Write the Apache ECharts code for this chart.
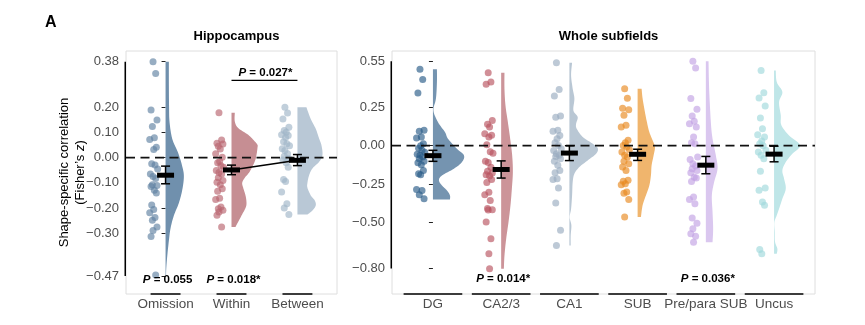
<!DOCTYPE html>
<html><head><meta charset="utf-8">
<script src="https://cdn.jsdelivr.net/npm/echarts@6/dist/echarts.min.js"></script>
<style>html,body{margin:0;padding:0;background:#fff}#c{width:865px;height:325px}</style>
</head><body><div id="c"></div>
<script>
// ---------------- DATA ----------------
const leftCats = ['Omission', 'Within', 'Between'];
const rightCats = ['DG', 'CA2/3', 'CA1', 'SUB', 'Pre/para SUB', 'Uncus'];
const leftTicks = [0.38, 0.20, 0.10, 0.00, -0.10, -0.20, -0.30, -0.47];
const rightTicks = [0.55, 0.25, 0.00, -0.25, -0.50, -0.80];

// individual participant values (Fisher's z)
const omissionPts = [0.38, 0.333, 0.189, 0.149, 0.123, 0.079, 0.072, 0.041, 0.032, -0.025, -0.03, -0.045, -0.065, -0.075, -0.083, -0.108, -0.111, -0.115, -0.13, -0.141, -0.188, -0.206, -0.219, -0.238, -0.249, -0.275, -0.289, -0.313, -0.466];
const withinPts = [0.178, 0.07, 0.057, 0.054, 0.045, 0.034, 0.015, 0.001, -0.016, -0.021, -0.032, -0.038, -0.051, -0.059, -0.065, -0.08, -0.091, -0.098, -0.108, -0.124, -0.134, -0.161, -0.166, -0.196, -0.203, -0.209, -0.216, -0.229, -0.275];
const betweenPts = [0.199, 0.177, 0.153, 0.12, 0.107, 0.1, 0.09, 0.087, 0.08, 0.063, 0.055, 0.047, 0.035, 0.028, 0.015, 0.005, -0.005, -0.01, -0.021, -0.038, -0.087, -0.095, -0.137, -0.183, -0.2, -0.226];
const dgPts = [0.498, 0.432, 0.343, 0.10, 0.095, 0.056, 0.05, 0.013, 0.0, -0.016, -0.03, -0.042, -0.055, -0.063, -0.074, -0.085, -0.102, -0.111, -0.124, -0.161, -0.183, -0.19, -0.285, -0.292, -0.32, -0.346];
const ca23Pts = [0.476, 0.415, 0.40, 0.165, 0.14, 0.122, 0.078, 0.068, 0.057, 0.007, -0.04, -0.05, -0.102, -0.11, -0.14, -0.166, -0.178, -0.189, -0.198, -0.22, -0.24, -0.303, -0.32, -0.357, -0.41, -0.417, -0.42, -0.498, -0.606, -0.704, -0.802];
const ca1Pts = [0.541, 0.367, 0.324, 0.193, 0.186, 0.1, 0.095, 0.067, 0.046, 0.02, 0.002, -0.02, -0.031, -0.052, -0.063, -0.07, -0.085, -0.102, -0.128, -0.161, -0.176, -0.215, -0.22, -0.276, -0.374, -0.552, -0.65];
const subPts = [0.371, 0.31, 0.245, 0.235, 0.198, 0.133, 0.122, 0.035, 0.02, 0.002, -0.009, -0.026, -0.041, -0.063, -0.074, -0.102, -0.117, -0.139, -0.161, -0.226, -0.232, -0.248, -0.255, -0.302, -0.31, -0.35, -0.465];
const preParaPts = [0.55, 0.506, 0.307, 0.237, 0.193, 0.16, 0.143, 0.122, 0.056, 0.019, 0.013, -0.074, -0.09, -0.118, -0.133, -0.15, -0.161, -0.176, -0.205, -0.21, -0.233, -0.335, -0.35, -0.378, -0.472, -0.505, -0.542, -0.574, -0.59, -0.629];
const uncusPts = [0.491, 0.346, 0.311, 0.259, 0.18, 0.11, 0.072, 0.056, 0.03, 0.013, 0.0, -0.03, -0.041, -0.063, -0.085, -0.167, -0.276, -0.291, -0.367, -0.389, -0.677, -0.705];

// group means with error bar limits
const leftMeans = [-0.070, -0.049, -0.011];
const leftLow = [-0.104, -0.068, -0.032];
const leftHigh = [-0.034, -0.030, 0.012];
const rightMeans = [-0.065, -0.155, -0.048, -0.056, -0.127, -0.055];
const rightLow = [-0.102, -0.211, -0.097, -0.096, -0.183, -0.105];
const rightHigh = [-0.030, -0.099, 0.000, -0.023, -0.070, -0.003];

// half-violin density profiles: [value, density]
const omissionDens = [[0.38,3.3],[0.30,3.3],[0.2,3.5],[0.14,4],[0.074,6.7],[0.017,12.7],[-0.035,16.7],[-0.075,18.3],[-0.128,16.7],[-0.18,13.3],[-0.23,8.3],[-0.28,5],[-0.33,3.3],[-0.39,1.7],[-0.44,0.7],[-0.466,0.5]];
const withinDens = [[0.178,3.3],[0.143,3.3],[0.117,6.7],[0.09,16.7],[0.064,23.3],[0.05,26],[0.04,26],[0.011,25],[-0.015,23.3],[-0.055,18.3],[-0.08,13.3],[-0.1,10.7],[-0.12,11.7],[-0.15,14],[-0.18,15],[-0.2,14],[-0.23,10],[-0.275,4]];
const betweenDens = [[0.199,9],[0.153,13.3],[0.114,18.3],[0.075,21.7],[0.049,24],[0.01,25],[-0.017,21.7],[-0.043,15],[-0.07,11.7],[-0.1,10],[-0.12,10],[-0.15,13.3],[-0.17,17.3],[-0.19,18.3],[-0.21,15],[-0.226,10]];
const dgDens = [[0.498,4],[0.415,4],[0.307,3],[0.23,0.5],[0.154,5],[0.089,12],[0.046,15],[-0.02,24],[-0.063,31],[-0.107,29],[-0.15,21],[-0.194,9],[-0.226,6],[-0.259,9],[-0.292,14],[-0.324,17],[-0.35,17]];
const ca23Dens = [[0.476,3.3],[0.372,3.3],[0.263,4.3],[0.154,6.7],[0.046,9],[-0.063,11],[-0.171,11.7],[-0.28,10.7],[-0.39,9.3],[-0.5,7.3],[-0.608,5],[-0.717,3.3],[-0.802,2.7]];
const ca1Dens = [[0.541,2.7],[0.459,1.7],[0.372,3.3],[0.307,5],[0.23,4],[0.187,8.3],[0.143,6.7],[0.111,7.3],[0.057,13.3],[0.02,21.7],[-0.015,28.3],[-0.052,26.7],[-0.096,18.3],[-0.139,10],[-0.183,5],[-0.237,3.3],[-0.324,2.7],[-0.411,1.7],[-0.466,0.3],[-0.52,2],[-0.585,1.3],[-0.65,1.3]];
const subDens = [[0.371,4],[0.307,5],[0.22,7.3],[0.154,9.3],[0.089,11.7],[0.035,15],[-0.009,17.3],[-0.063,16],[-0.128,14],[-0.194,13.3],[-0.259,11.7],[-0.324,8.3],[-0.389,5],[-0.465,3.3]];
const preParaDens = [[0.55,2.7],[0.372,3.3],[0.154,5],[0.046,6.7],[-0.063,10],[-0.15,11.7],[-0.237,8.3],[-0.324,6],[-0.433,6.7],[-0.542,7.3],[-0.629,6.7]];
const uncusDens = [[0.491,1.7],[0.415,2.7],[0.35,8.3],[0.285,5],[0.198,6.7],[0.133,7.3],[0.067,15],[0.002,26],[-0.052,18.3],[-0.107,11.7],[-0.161,8.3],[-0.215,10],[-0.28,11.7],[-0.346,8.3],[-0.411,5],[-0.454,2.7],[-0.5,0.3],[-0.563,0.7],[-0.628,1],[-0.672,3.3],[-0.705,2.7]];

// horizontal jitter pattern (x-axis units, to the left of each group)
const jitter = [-0.19,-0.15,-0.22,-0.13,-0.2,-0.17,-0.24,-0.14,-0.18,-0.21,-0.16,-0.12,-0.23,-0.19,-0.15,-0.2,-0.13,-0.22,-0.17,-0.14,-0.21,-0.18,-0.24,-0.16,-0.2,-0.13,-0.19,-0.22,-0.15,-0.18,-0.17];

// p-value annotations
const leftPValues = [{cat: 0, text: '0.055'}, {cat: 1, text: '0.018*'}];
const leftPairs = [{from: 1, to: 2, text: '0.027*'}];
const rightPValues = [{cat: 1, text: '0.014*'}, {cat: 4, text: '0.036*'}];

// ---------------- STYLE ----------------
const FONT = '"Liberation Sans", Arial, Helvetica, sans-serif';
const panels = [
  {
    cats: leftCats, ticks: leftTicks,
    pts: [omissionPts, withinPts, betweenPts],
    dens: [omissionDens, withinDens, betweenDens],
    means: leftMeans, lo: leftLow, hi: leftHigh,
    pv: leftPValues, pairs: leftPairs,
    ymin: -0.541, ymax: 0.4225, pvY: -0.486, pairY: 0.306,
    underHalf: 0.227, densScale: 1 / 65.9,
    ptColors: ['#5f81a1', '#b8646f', '#a0b5c8'],
    vColors: ['#7090ad', '#c68e93', '#b9c8d6'],
    grid: {left: 126, top: 51, width: 211, height: 243}
  },
  {
    cats: rightCats, ticks: rightTicks,
    pts: [dgPts, ca23Pts, ca1Pts, subPts, preParaPts, uncusPts],
    dens: [dgDens, ca23Dens, ca1Dens, subDens, preParaDens, uncusDens],
    means: rightMeans, lo: rightLow, hi: rightHigh,
    pv: rightPValues, pairs: [],
    ymin: -0.967, ymax: 0.6175, pvY: -0.871, pairY: 0,
    underHalf: 0.43, densScale: 1 / 68.2,
    ptColors: ['#285a87', '#b9535f', '#9aacc0', '#e8891e', '#c2a2e3', '#a0d9dc'],
    vColors: ['#7594b0', '#cc9499', '#b9c7d4', '#f0b56d', '#dac7ef', '#bfe6e8'],
    grid: {left: 392, top: 51, width: 423, height: 243}
  }
];

function fmtTick(v) {
  const s = Math.abs(v).toFixed(2);
  return (v < -1e-9 ? '\u2212' : '') + s;
}

function catmull(pts) {
  if (pts.length < 3) return pts;
  const out = [];
  for (let i = 0; i < pts.length - 1; i++) {
    const p0 = pts[Math.max(0, i - 1)], p1 = pts[i], p2 = pts[i + 1], p3 = pts[Math.min(pts.length - 1, i + 2)];
    for (let k = 0; k < 8; k++) {
      const t = k / 8, t2 = t * t, t3 = t2 * t;
      const f = (a, b, c, d) => 0.5 * ((2 * b) + (-a + c) * t + (2 * a - 5 * b + 4 * c - d) * t2 + (-a + 3 * b - 3 * c + d) * t3);
      out.push([f(p0[0], p1[0], p2[0], p3[0]), f(p0[1], p1[1], p2[1], p3[1])]);
    }
  }
  out.push(pts[pts.length - 1]);
  return out;
}

const rich = {
  i: {fontStyle: 'italic', fontWeight: 'bold', fontSize: 11.5, fontFamily: FONT, fill: '#000'},
  b: {fontWeight: 'bold', fontSize: 11.5, fontFamily: FONT, fill: '#000'}
};

const grids = [], xAxes = [], yAxes = [], series = [];

panels.forEach((P, p) => {
  grids.push(Object.assign({show: true, borderColor: '#dedede', borderWidth: 1, backgroundColor: 'transparent'}, P.grid));
  const n = P.cats.length;
  const catIdx = P.cats.map((c, i) => i);
  xAxes.push({
    gridIndex: p, type: 'value', min: -0.6, max: n - 0.4,
    axisLine: {show: false}, axisTick: {show: false}, splitLine: {show: false},
    axisLabel: {customValues: catIdx, formatter: v => P.cats[Math.round(v)] || '', color: '#4d4d4d', fontSize: 13.5, fontFamily: FONT, margin: 3}
  });
  const yax = {
    gridIndex: p, type: 'value', min: P.ymin, max: P.ymax,
    splitLine: {show: false}, axisLine: {show: false},
    axisTick: {show: true, customValues: P.ticks, length: 4, lineStyle: {color: '#222', width: 1}},
    axisLabel: {customValues: P.ticks, formatter: fmtTick, color: '#4d4d4d', fontSize: 13, fontFamily: FONT, margin: 7}
  };
  if (p === 0) {
    Object.assign(yax, {
      name: '{a|Shape-specific correlation}\n{a|(Fisher\u2019s }{z|z}{a|)}',
      nameLocation: 'middle', nameGap: 38, nameRotate: 90, nameMoveOverlap: false,
      nameTextStyle: {
        lineHeight: 16,
        rich: {
          a: {fontSize: 13, fontFamily: FONT, color: '#000', lineHeight: 16},
          z: {fontSize: 13, fontFamily: FONT, color: '#000', fontStyle: 'italic', lineHeight: 16}
        }
      }
    });
  }
  yAxes.push(yax);

  // half violins
  series.push({
    type: 'custom', xAxisIndex: p, yAxisIndex: p, z: 1, silent: true,
    data: catIdx.map(i => [i, P.means[i]]),
    renderItem: (params, api) => {
      const i = params.dataIndex;
      const d = P.dens[i];
      const edge = d.map(([y, w]) => api.coord([i + w * P.densScale, y]));
      const bx = api.coord([i, 0])[0];
      const smooth = catmull(edge).map(q => [Math.max(bx, q[0]), q[1]]);
      const top = api.coord([i, d[0][0]]);
      const bot = api.coord([i, d[d.length - 1][0]]);
      return {type: 'polygon', shape: {points: [top].concat(smooth, [bot])}, style: {fill: P.vColors[i]}};
    }
  });

  // jittered points
  P.pts.forEach((arr, i) => {
    series.push({
      type: 'scatter', xAxisIndex: p, yAxisIndex: p, z: 2, silent: true,
      symbolSize: 7,
      itemStyle: {color: P.ptColors[i], opacity: 0.65},
      data: arr.map((v, k) => [i + jitter[k % jitter.length], v])
    });
  });

  // zero reference (dashed)
  series.push({
    type: 'custom', xAxisIndex: p, yAxisIndex: p, z: 3, silent: true,
    data: [[0, 0]],
    renderItem: (params, api) => {
      const a = api.coord([-0.6, 0]), b = api.coord([n - 0.4, 0]);
      return {type: 'line', shape: {x1: a[0], y1: a[1], x2: b[0], y2: b[1]},
        style: {stroke: '#111', lineWidth: 1.7, lineDash: [9, 5.5]}};
    }
  });

  // means with error bars
  series.push({
    type: 'custom', xAxisIndex: p, yAxisIndex: p, z: 5, silent: true,
    data: catIdx.map(i => [i, P.means[i], P.lo[i], P.hi[i]]),
    renderItem: (params, api) => {
      const x = api.value(0);
      const c = api.coord([x, api.value(1)]);
      const l = api.coord([x, api.value(2)]);
      const h = api.coord([x, api.value(3)]);
      const st = {stroke: '#000', lineWidth: 1.5};
      return {type: 'group', children: [
        {type: 'line', shape: {x1: c[0], y1: h[1], x2: c[0], y2: l[1]}, style: st},
        {type: 'line', shape: {x1: c[0] - 4.5, y1: h[1], x2: c[0] + 4.5, y2: h[1]}, style: st},
        {type: 'line', shape: {x1: c[0] - 4.5, y1: l[1], x2: c[0] + 4.5, y2: l[1]}, style: st},
        {type: 'rect', shape: {x: c[0] - 8.5, y: c[1] - 2.5, width: 17, height: 5}, style: {fill: '#000'}}
      ]};
    }
  });

  // capped y axis line and category underlines
  series.push({
    type: 'custom', xAxisIndex: p, yAxisIndex: p, z: 4, silent: true,
    data: catIdx.map(i => [i, P.ymin]),
    renderItem: (params, api) => {
      const i = params.dataIndex;
      const st = {stroke: '#000', lineWidth: 1.5};
      const a = api.coord([i - P.underHalf, P.ymin]), b = api.coord([i + P.underHalf, P.ymin]);
      const ch = [{type: 'line', shape: {x1: a[0], y1: a[1], x2: b[0], y2: b[1]}, style: st}];
      if (i === 0) {
        const t = api.coord([-0.6, P.ticks[0]]), u = api.coord([-0.6, P.ticks[P.ticks.length - 1]]);
        ch.push({type: 'line', shape: {x1: t[0] - 0.75, y1: t[1], x2: u[0] - 0.75, y2: u[1]}, style: st});
      }
      return {type: 'group', children: ch};
    }
  });

  // p-value labels
  series.push({
    type: 'custom', xAxisIndex: p, yAxisIndex: p, z: 6, silent: true,
    data: P.pv.map(o => [o.cat, P.pvY]),
    renderItem: (params, api) => {
      const o = P.pv[params.dataIndex];
      const c = api.coord([o.cat, P.pvY]);
      return {type: 'text', x: c[0] + 2, y: c[1], style: {text: '{i|P}{b| = ' + o.text + '}', rich: rich, align: 'center', verticalAlign: 'middle', fill: '#000'}};
    }
  });
  if (P.pairs.length) {
    series.push({
      type: 'custom', xAxisIndex: p, yAxisIndex: p, z: 6, silent: true,
      data: P.pairs.map(o => [o.from, P.pairY]),
      renderItem: (params, api) => {
        const o = P.pairs[params.dataIndex];
        const a = api.coord([o.from, P.pairY]), b = api.coord([o.to, P.pairY]);
        return {type: 'group', children: [
          {type: 'line', shape: {x1: a[0], y1: a[1], x2: b[0], y2: b[1]}, style: {stroke: '#000', lineWidth: 1.2}},
          {type: 'text', x: (a[0] + b[0]) / 2 + 1, y: a[1] - 2, style: {text: '{i|P}{b| = ' + o.text + '}', rich: rich, align: 'center', verticalAlign: 'bottom', fill: '#000'}}
        ]};
      }
    });
    // line joining the compared group means
    series.push({
      type: 'line', xAxisIndex: p, yAxisIndex: p, z: 4, silent: true,
      symbol: 'none', lineStyle: {color: '#000', width: 1.5},
      data: P.pairs.map(o => [[o.from, P.means[o.from]], [o.to, P.means[o.to]]]).flat()
    });
  }
});

const chart = echarts.init(document.getElementById('c'), null, {renderer: 'canvas'});
chart.setOption({
  animation: false,
  backgroundColor: '#fff',
  textStyle: {fontFamily: FONT},
  title: [
    {text: 'A', left: 40, top: 10, textStyle: {fontSize: 16, fontWeight: 'bold', color: '#000', fontFamily: FONT}},
    {text: 'Hippocampus', left: 231.5, top: 25, textAlign: 'center', textStyle: {fontSize: 13, fontWeight: 'bold', color: '#000', fontFamily: FONT}},
    {text: 'Whole subfields', left: 603.5, top: 25, textAlign: 'center', textStyle: {fontSize: 13, fontWeight: 'bold', color: '#000', fontFamily: FONT}}
  ],
  grid: grids, xAxis: xAxes, yAxis: yAxes, series: series
});
</script></body></html>
